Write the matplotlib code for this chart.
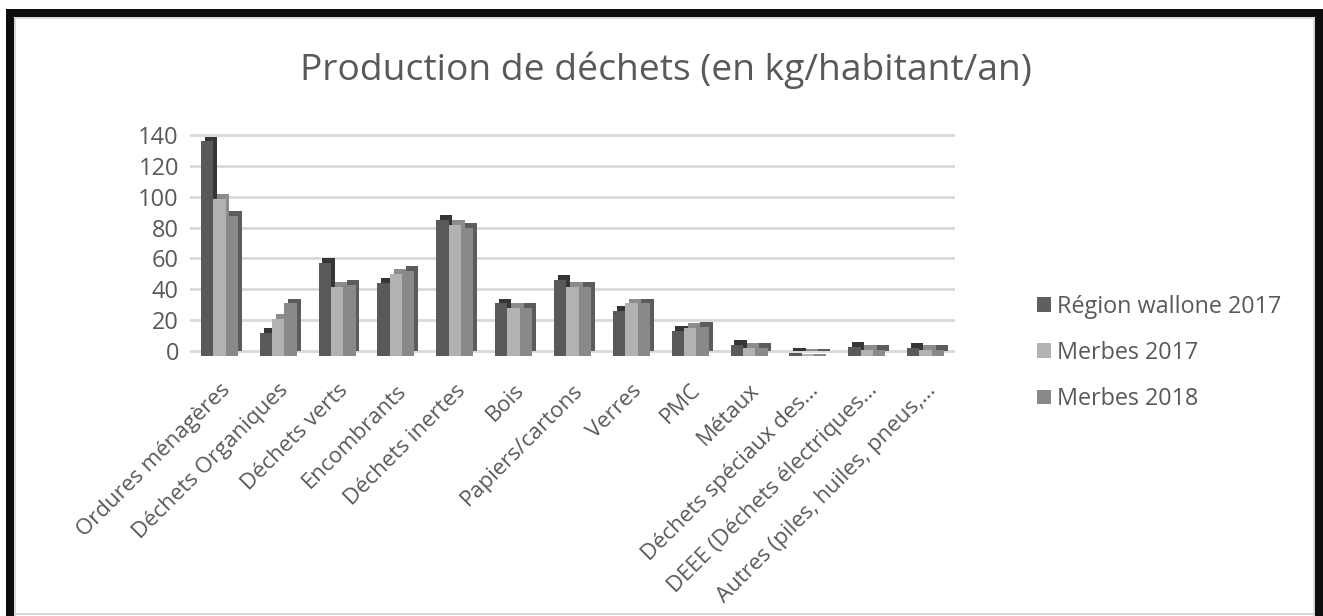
import numpy as np
import matplotlib
matplotlib.use("Agg")
import matplotlib.pyplot as plt
from matplotlib.patches import Rectangle, Patch

plt.rcParams['font.family'] = ['Open Sans', 'DejaVu Sans']

categories = ["Ordures ménagères", "Déchets Organiques", "Déchets verts",
              "Encombrants", "Déchets inertes", "Bois", "Papiers/cartons",
              "Verres", "PMC", "Métaux", "Déchets spéciaux des…",
              "DEEE (Déchets électriques…", "Autres (piles, huiles, pneus,…"]
series_names = ["Région wallone 2017", "Merbes 2017", "Merbes 2018"]
wallonie_2017 = [139, 15, 60, 47, 88, 34, 49, 29, 16, 7, 2, 6, 5]
merbes_2017 = [102, 24, 45, 53, 85, 31, 45, 34, 18, 5, 1, 4, 4]
merbes_2018 = [91, 34, 46, 55, 83, 31, 45, 34, 19, 5, 1, 4, 4]
yticks = [0, 20, 40, 60, 80, 100, 120, 140]

W, H = 1323, 616
fig = plt.figure(figsize=(W / 100, H / 100), dpi=100)
fig.patch.set_facecolor("white")

def px_rect(x0, y0, x1, y1, color):
    # rectangle given in pixel coords from top-left
    fig.patches.append(Rectangle((x0 / W, 1 - y1 / H), (x1 - x0) / W, (y1 - y0) / H,
                                 transform=fig.transFigure, color=color, lw=0, zorder=0))

# black frame + thin grey inner edge
px_rect(6, 9, W, 17, "#0d0d0d")
px_rect(6, 9, 14, H, "#0d0d0d")
px_rect(1315, 9, W, H, "#0d0d0d")
px_rect(14, 17, 1315, 19, "#d9d9d9")
px_rect(14, 17, 16, H, "#d9d9d9")
px_rect(1313, 17, 1315, H, "#d9d9d9")
px_rect(16, 613, 1313, 615, "#d9d9d9")

ymin, ymax = -6, 141
ppu = 216 / 140
y_bot = 351 + (-ymin) * ppu
y_top = 351 - ymax * ppu
ax = fig.add_axes([190 / W, 1 - y_bot / H, (955 - 190) / W, (y_bot - y_top) / H])
ax.set_xlim(-0.5, len(categories) - 0.5)
ax.set_ylim(ymin, ymax)
ax.set_facecolor("none")
for s in ax.spines.values():
    s.set_visible(False)
ax.set_yticks(yticks)
ax.tick_params(axis="y", length=0, pad=8, labelsize=17, labelcolor="#595959")
ax.tick_params(axis="x", length=0)
for t in yticks:
    ax.axhline(t, color="#d9d9d9", lw=2, zorder=1)

x = np.arange(len(categories))
face = ["#595959", "#b2b2b2", "#898989"]
side = ["#363636", "#8c8c8c", "#5c5c5c"]
data = [wallonie_2017, merbes_2017, merbes_2018]
bw = 0.21
dx = 0.065
e = 3.2
z = 2
for i, vals in enumerate(data):
    pos = x + (i - 1) * bw
    ax.bar(pos + dx, vals, width=bw, bottom=0, color=side[i], lw=0, zorder=z)
    ax.bar(pos, vals, width=bw, bottom=-e, color=face[i], lw=0, zorder=z + 1)
    z += 2

ax.set_xticks(x)
ax.set_xticklabels(categories, rotation=45, ha="right", va="top",
                   rotation_mode="anchor", fontsize=16, color="#595959")
for lab in ax.get_xticklabels():
    lab.set_y(-0.065)

fig.text(0.503, 0.886, "Production de déchets (en kg/habitant/an)", ha="center",
         va="center", fontsize=26.8, color="#595959")

handles = [Patch(facecolor=c, edgecolor="none") for c in ["#5f5f5f", "#b3b3b3", "#898989"]]
leg = fig.legend(handles, series_names, loc="center left",
                 bbox_to_anchor=(1016 / W, 1 - 353 / H), frameon=False,
                 fontsize=16.8, labelcolor="#595959", handlelength=0.6,
                 handleheight=0.6, handletextpad=0.25, labelspacing=0.95)

fig.savefig("out.png", dpi=100)
